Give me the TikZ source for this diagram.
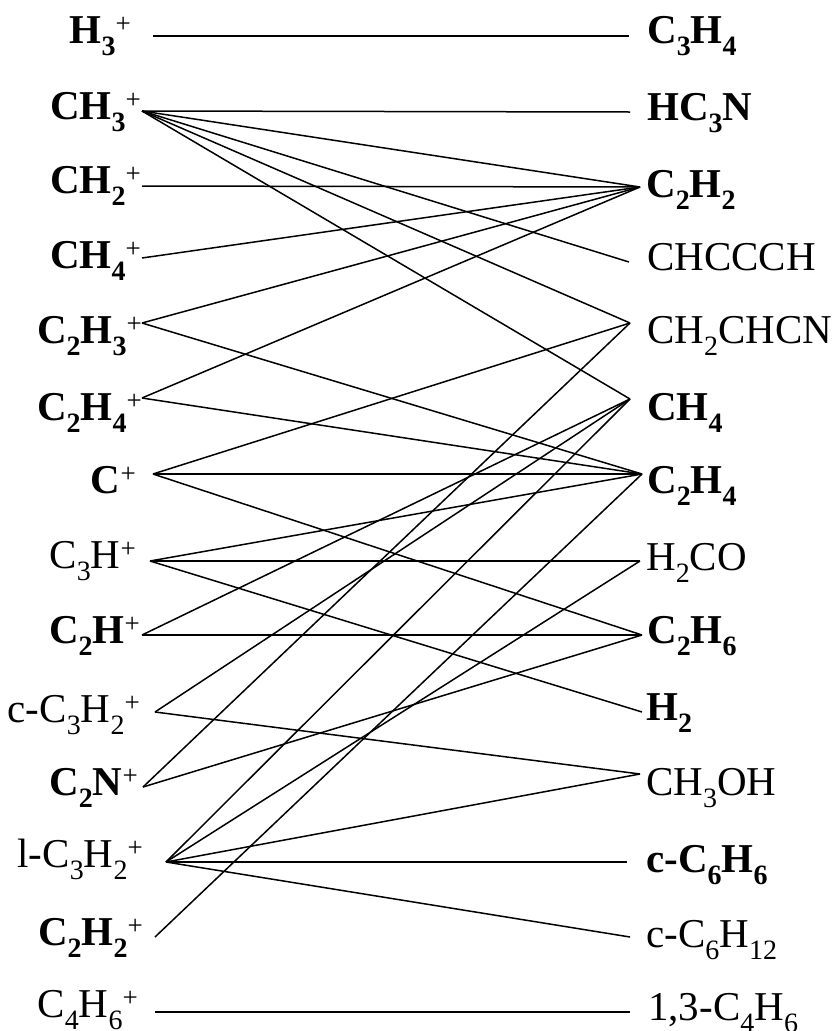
\documentclass[tikz,border=0pt]{standalone}
\usepackage{fontspec}
\setmainfont{Liberation Serif}
\newcommand\sbs[1]{\raisebox{-12pt}{\fontsize{28}{30}\selectfont #1}}
\newcommand\spl{\raisebox{11pt}{\fontsize{27}{30}\selectfont\mdseries +}}
\begin{document}
\begin{tikzpicture}[x=1pt,y=-1pt,
  lbl/.style={inner sep=0pt, font=\fontsize{41}{48}\selectfont},
  lblb/.style={inner sep=0pt, font=\fontsize{41}{48}\selectfont\bfseries},
  link/.style={line width=1.5pt}]
\useasboundingbox (0,0) rectangle (836,1031);
% left labels
\node[lblb, anchor=base east] (L1) at (131,43) {H\sbs{3}\spl};
\node[lblb, anchor=base east] (L2) at (141,119) {CH\sbs{3}\spl};
\node[lblb, anchor=base east] (L3) at (141,193) {CH\sbs{2}\spl};
\node[lblb, anchor=base east] (L4) at (141,268) {CH\sbs{4}\spl};
\node[lblb, anchor=base east] (L5) at (142,343) {C\sbs{2}H\sbs{3}\spl};
\node[lblb, anchor=base east] (L6) at (142,420) {C\sbs{2}H\sbs{4}\spl};
\node[lblb, anchor=base east] (L7) at (136,493) {C\spl};
\node[lbl,  anchor=base east] (L8) at (136,568) {C\sbs{3}H\spl};
\node[lblb, anchor=base east] (L9) at (140,643) {C\sbs{2}H\spl};
\node[lbl,  anchor=base east] (L10) at (140,722) {c-C\sbs{3}H\sbs{2}\spl};
\node[lblb, anchor=base east] (L11) at (138,795) {C\sbs{2}N\spl};
\node[lbl,  anchor=base east] (L12) at (143,867) {l-C\sbs{3}H\sbs{2}\spl};
\node[lblb, anchor=base east] (L13) at (143,945) {C\sbs{2}H\sbs{2}\spl};
\node[lbl,  anchor=base east] (L14) at (138,1017) {C\sbs{4}H\sbs{6}\spl};
% right labels
\node[lblb, anchor=base west] (R1) at (647,43) {C\sbs{3}H\sbs{4}};
\node[lblb, anchor=base west] (R2) at (647,120) {HC\sbs{3}N};
\node[lblb, anchor=base west] (R3) at (646,197) {C\sbs{2}H\sbs{2}};
\node[lbl,  anchor=base west] (R4) at (647,270) {CHCCCH};
\node[lbl,  anchor=base west] (R5) at (647,343) {CH\sbs{2}CHCN};
\node[lblb, anchor=base west] (R6) at (647,420) {CH\sbs{4}};
\node[lblb, anchor=base west] (R7) at (647,493) {C\sbs{2}H\sbs{4}};
\node[lbl,  anchor=base west] (R8) at (646,570) {H\sbs{2}CO};
\node[lblb, anchor=base west] (R9) at (647,643) {C\sbs{2}H\sbs{6}};
\node[lblb, anchor=base west] (R10) at (646,720) {H\sbs{2}};
\node[lbl,  anchor=base west] (R11) at (646,795) {CH\sbs{3}OH};
\node[lblb, anchor=base west] (R12) at (646,872) {c-C\sbs{6}H\sbs{6}};
\node[lbl,  anchor=base west] (R13) at (646,947) {c-C\sbs{6}H\sbs{12}};
\node[lbl,  anchor=base west] (R14) at (648,1020) {1,3-C\sbs{4}H\sbs{6}};
% connector ends
\coordinate (a1) at (153,36);
\coordinate (a2) at (142,111);
\coordinate (a3) at (142,186);
\coordinate (a4) at (142,258);
\coordinate (a5) at (142,323);
\coordinate (a6) at (142,398);
\coordinate (a7) at (153,474);
\coordinate (a8) at (150,561);
\coordinate (a9) at (142,635);
\coordinate (a10) at (155,712);
\coordinate (a11) at (143,787);
\coordinate (a12) at (166,862);
\coordinate (a13) at (155,937);
\coordinate (a14) at (155,1012);
\coordinate (b1) at (629,36);
\coordinate (b2) at (630,112);
\coordinate (b3) at (640,187);
\coordinate (b4) at (629,262);
\coordinate (b5) at (630,323);
\coordinate (b6) at (630,399);
\coordinate (b7) at (642,474);
\coordinate (b8) at (640,561);
\coordinate (b9) at (642,635);
\coordinate (b10) at (642,712);
\coordinate (b11) at (640,774);
\coordinate (b12) at (627,862);
\coordinate (b13) at (630,937);
\coordinate (b14) at (630,1012);
% connectors
\draw[link] (a1) -- (b1);
\draw[link] (a2) -- (b2);
\draw[link] (a2) -- (b3);
\draw[link] (a2) -- (b4);
\draw[link] (a2) -- (b5);
\draw[link] (a2) -- (b6);
\draw[link] (a3) -- (b3);
\draw[link] (a4) -- (b3);
\draw[link] (a5) -- (b3);
\draw[link] (a5) -- (b7);
\draw[link] (a6) -- (b3);
\draw[link] (a6) -- (b7);
\draw[link] (a7) -- (b5);
\draw[link] (a7) -- (b7);
\draw[link] (a7) -- (b9);
\draw[link] (a8) -- (b7);
\draw[link] (a8) -- (b8);
\draw[link] (a8) -- (b10);
\draw[link] (a9) -- (b6);
\draw[link] (a9) -- (b9);
\draw[link] (a10) -- (b6);
\draw[link] (a10) -- (b11);
\draw[link] (a11) -- (b5);
\draw[link] (a11) -- (b9);
\draw[link] (a12) -- (b6);
\draw[link] (a12) -- (b8);
\draw[link] (a12) -- (b11);
\draw[link] (a12) -- (b12);
\draw[link] (a12) -- (b13);
\draw[link] (a13) -- (b7);
\draw[link] (a14) -- (b14);
\end{tikzpicture}
\end{document}
